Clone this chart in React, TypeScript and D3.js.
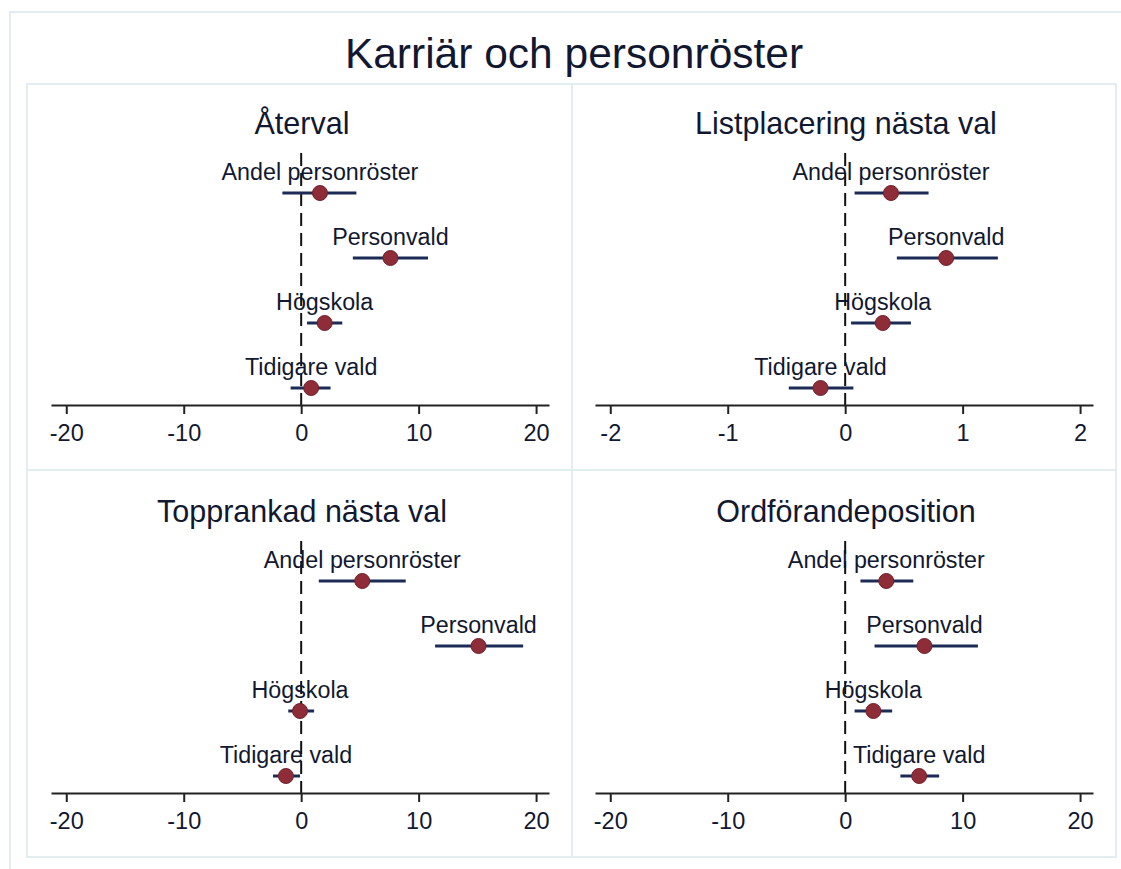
import { useEffect, useRef } from "react";
import * as d3 from "d3";

const mainTitle = "Karriär och personröster";
const panelTitles = ["Återval", "Listplacering nästa val", "Topprankad nästa val", "Ordförandeposition"];
const variables = ["Andel personröster", "Personvald", "Högskola", "Tidigare vald"];

// point estimates and confidence intervals, one array per panel
const estimates = [
  [1.6, 7.6, 2.0, 0.85],
  [0.39, 0.86, 0.32, -0.21],
  [5.2, 15.1, -0.1, -1.3],
  [3.5, 6.75, 2.4, 6.3],
];
const lower = [
  [-1.6, 4.4, 0.5, -0.9],
  [0.08, 0.44, 0.05, -0.48],
  [1.5, 11.4, -1.1, -2.4],
  [1.3, 2.5, 0.8, 4.7],
];
const upper = [
  [4.7, 10.8, 3.5, 2.5],
  [0.71, 1.3, 0.56, 0.07],
  [8.9, 18.9, 1.1, -0.1],
  [5.8, 11.3, 4.0, 8.0],
];
const tickValues = [
  [-20, -10, 0, 10, 20],
  [-2, -1, 0, 1, 2],
  [-20, -10, 0, 10, 20],
  [-20, -10, 0, 10, 20],
];
const domains: [number, number][] = [
  [-21.3, 21.1],
  [-2.13, 2.11],
  [-21.3, 21.1],
  [-21.3, 21.1],
];

const W = 1121;
const H = 869;
const FONT = "'Liberation Sans', Arial, sans-serif";
const TEXT = "#111830";
const BORDER = "#e2edf0";

export default function App() {
  const ref = useRef<SVGSVGElement>(null);

  useEffect(() => {
    if (!ref.current) return;
    const svg = d3.select(ref.current);
    svg.selectAll("*").remove();

    svg.append("rect").attr("width", W).attr("height", H).attr("fill", "#fff");

    // outer frame
    svg
      .append("rect")
      .attr("x", 10)
      .attr("y", 12)
      .attr("width", 1125)
      .attr("height", 880)
      .attr("fill", "none")
      .attr("stroke", BORDER)
      .attr("stroke-width", 2);

    svg
      .append("text")
      .attr("x", 574)
      .attr("y", 68)
      .attr("text-anchor", "middle")
      .attr("font-family", FONT)
      .attr("font-size", 42.5)
      .attr("fill", TEXT)
      .text(mainTitle);

    // panel boxes
    const boxX = [27, 572, 1116];
    const boxY = [84, 470, 857];
    for (let r = 0; r < 2; r++) {
      for (let c = 0; c < 2; c++) {
        svg
          .append("rect")
          .attr("x", boxX[c])
          .attr("y", boxY[r])
          .attr("width", boxX[c + 1] - boxX[c])
          .attr("height", boxY[r + 1] - boxY[r])
          .attr("fill", "none")
          .attr("stroke", BORDER)
          .attr("stroke-width", 2);
      }
    }

    panelTitles.forEach((title, i) => {
      const col = i % 2;
      const row = Math.floor(i / 2);
      const ox = col * 544;
      const oy = row * 388;

      const x = d3.scaleLinear().domain(domains[i]).range([51 + ox, 549 + ox]);
      const y = d3.scalePoint().domain(variables).range([193 + oy, 388 + oy]);
      const axisY = 405 + oy;

      const g = svg.append("g");

      g.append("text")
        .attr("x", (x.range()[0] + x.range()[1]) / 2 + 2)
        .attr("y", 134 + oy)
        .attr("text-anchor", "middle")
        .attr("font-family", FONT)
        .attr("font-size", 30.5)
        .attr("fill", TEXT)
        .text(title);

      // reference line at zero
      g.append("line")
        .attr("x1", x(0))
        .attr("x2", x(0))
        .attr("y1", 153 + oy)
        .attr("y2", axisY)
        .attr("stroke", "#111")
        .attr("stroke-width", 2)
        .attr("stroke-dasharray", "13,7");

      // x axis
      g.append("g")
        .attr("transform", `translate(0,${axisY})`)
        .call(d3.axisBottom(x).tickValues(tickValues[i]).tickSize(9).tickSizeOuter(0).tickPadding(10).tickFormat(d3.format("d")))
        .call((a) => a.select(".domain").attr("stroke", "#222").attr("stroke-width", 2))
        .call((a) => a.selectAll(".tick line").attr("stroke", "#222").attr("stroke-width", 2))
        .call((a) =>
          a
            .selectAll(".tick text")
            .attr("fill", TEXT)
            .attr("font-family", FONT)
            .attr("font-size", 23.5)
            .text((d) => String(d).replace("\u2212", "-"))
        );

      const rows = variables.map((v, j) => ({
        name: v,
        est: estimates[i][j],
        lo: lower[i][j],
        hi: upper[i][j],
      }));

      g.selectAll(".ci")
        .data(rows)
        .join("line")
        .attr("x1", (d) => x(d.lo))
        .attr("x2", (d) => x(d.hi))
        .attr("y1", (d) => y(d.name) ?? 0)
        .attr("y2", (d) => y(d.name) ?? 0)
        .attr("stroke", "#1b2b55")
        .attr("stroke-width", 3);

      g.selectAll(".pt")
        .data(rows)
        .join("circle")
        .attr("cx", (d) => x(d.est))
        .attr("cy", (d) => y(d.name) ?? 0)
        .attr("r", 7.5)
        .attr("fill", "#8e2d38")
        .attr("stroke", "#731f2b")
        .attr("stroke-width", 1);

      g.selectAll(".lbl")
        .data(rows)
        .join("text")
        .attr("x", (d) => x(d.est))
        .attr("y", (d) => (y(d.name) ?? 0) - 13)
        .attr("text-anchor", "middle")
        .attr("font-family", FONT)
        .attr("font-size", 23.3)
        .attr("fill", TEXT)
        .text((d) => d.name);
    });
  }, []);

  return (
    <div style={{ position: "absolute", left: 0, top: 0 }}>
      <svg ref={ref} width={W} height={H} style={{ display: "block" }} />
    </div>
  );
}
